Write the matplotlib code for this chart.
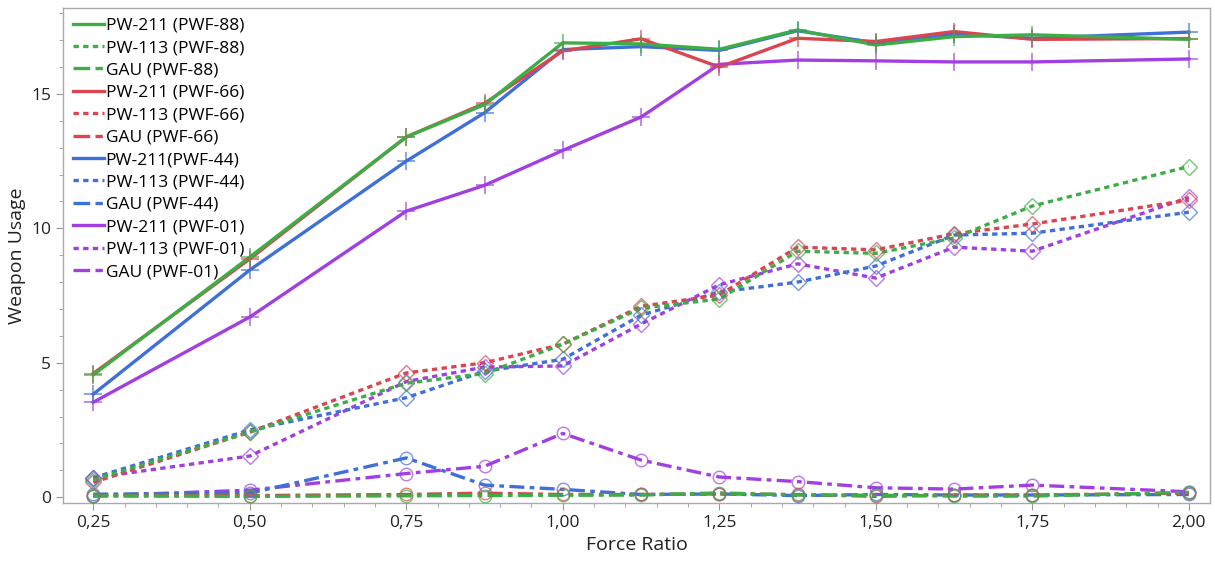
import numpy as np
import matplotlib.pyplot as plt
from matplotlib.ticker import MultipleLocator, FuncFormatter

plt.rcParams['font.family'] = ['Open Sans', 'DejaVu Sans']

force_ratio = [0.25, 0.50, 0.75, 0.875, 1.00, 1.125, 1.25, 1.375, 1.50, 1.625, 1.75, 2.00]

groups = ["PWF-88", "PWF-66", "PWF-44", "PWF-01"]
colors = ["#3DAE46", "#DB4552", "#3F6FD9", "#A23FE0"]

# PW-211 (solid)
pw211_88 = [4.55, 8.93, 13.4, 14.6, 16.9, 16.86, 16.66, 17.38, 16.82, 17.13, 17.2, 17.03]
pw211_66 = [4.6, 8.86, 13.4, 14.65, 16.6, 17.05, 16.0, 17.07, 16.95, 17.32, 17.03, 17.06]
pw211_44 = [3.83, 8.45, 12.5, 14.3, 16.65, 16.76, 16.62, 17.35, 16.9, 17.23, 17.07, 17.3]
pw211_01 = [3.53, 6.7, 10.64, 11.6, 12.9, 14.14, 16.1, 16.26, 16.23, 16.19, 16.19, 16.3]

# PW-113 (dotted)
pw113_88 = [0.65, 2.42, 4.24, 4.6, 5.69, 7.03, 7.37, 9.15, 9.07, 9.64, 10.83, 12.3]
pw113_66 = [0.55, 2.42, 4.62, 5.0, 5.69, 7.1, 7.52, 9.3, 9.2, 9.8, 10.16, 11.05]
pw113_44 = [0.72, 2.5, 3.7, 4.68, 5.13, 6.77, 7.63, 8.0, 8.6, 9.75, 9.82, 10.6]
pw113_01 = [0.72, 1.53, 4.3, 4.84, 4.88, 6.44, 7.9, 8.68, 8.15, 9.3, 9.15, 11.15]

# GAU (dash-dot)
gau_88 = [0.05, 0.03, 0.05, 0.06, 0.07, 0.08, 0.16, 0.08, 0.07, 0.04, 0.04, 0.18]
gau_66 = [0.05, 0.06, 0.1, 0.15, 0.1, 0.1, 0.12, 0.1, 0.03, 0.08, 0.08, 0.15]
gau_44 = [0.11, 0.15, 1.46, 0.45, 0.29, 0.1, 0.12, 0.06, 0.1, 0.08, 0.08, 0.1]
gau_01 = [0.05, 0.26, 0.88, 1.15, 2.37, 1.38, 0.75, 0.58, 0.35, 0.3, 0.45, 0.2]

pw211 = [pw211_88, pw211_66, pw211_44, pw211_01]
pw113 = [pw113_88, pw113_66, pw113_44, pw113_01]
gau = [gau_88, gau_66, gau_44, gau_01]

fig = plt.figure(figsize=(12.15, 5.64), dpi=100)
ax = fig.add_axes([0.052, 0.108, 0.944, 0.878])

lw = 2.4
dot = (1.6, 1.3)
dashdot = (4.5, 1.6, 1.4, 1.6)

# draw back to front: purple first, green last
for i in reversed(range(4)):
    c = colors[i]
    ax.plot(force_ratio, gau[i], color=c, lw=lw, dashes=dashdot, zorder=2)
    ax.plot(force_ratio, gau[i], ls="none", marker="o", ms=9, mfc="none",
            mec=c, mew=1, alpha=0.7, zorder=3)
    ax.plot(force_ratio, pw113[i], color=c, lw=lw, dashes=dot, zorder=2)
    ax.plot(force_ratio, pw113[i], ls="none", marker="D", ms=8, mfc="none",
            mec=c, mew=1, alpha=0.7, zorder=3)
    ax.plot(force_ratio, pw211[i], color=c, lw=lw, zorder=2)
    ax.plot(force_ratio, pw211[i], ls="none", marker="+", ms=13, mec=c,
            mew=1.1, alpha=0.8, zorder=3)

# legend handles (lines only)
handles, labels = [], []
for i, g in enumerate(groups):
    c = colors[i]
    h1, = ax.plot([], [], color=c, lw=lw)
    h2, = ax.plot([], [], color=c, lw=lw, dashes=dot)
    h3, = ax.plot([], [], color=c, lw=lw, dashes=(5.0, 1.6, 2.2, 3))
    name211 = "PW-211(%s)" % g if g == "PWF-44" else "PW-211 (%s)" % g
    handles += [h1, h2, h3]
    labels += [name211, "PW-113 (%s)" % g, "GAU (%s)" % g]

ax.legend(handles, labels, loc="upper left", frameon=False, fontsize=12.5,
          handlelength=1.8, handletextpad=0.1, labelspacing=0.36,
          borderaxespad=0.15, bbox_to_anchor=(0.0, 1.0))

ax.set_xlim(0.202, 2.034)
ax.set_ylim(-0.22, 18.2)
ax.xaxis.set_major_locator(MultipleLocator(0.25))
ax.xaxis.set_minor_locator(MultipleLocator(0.05))
ax.yaxis.set_major_locator(MultipleLocator(5))
ax.yaxis.set_minor_locator(MultipleLocator(1))
ax.xaxis.set_major_formatter(FuncFormatter(lambda v, p: ("%.2f" % v).replace(".", ",")))
ax.yaxis.set_major_formatter(FuncFormatter(lambda v, p: "%d" % v))

ax.tick_params(axis="both", which="major", labelsize=12.5, length=5, color="#999999",
               labelcolor="#222222")
ax.tick_params(axis="both", which="minor", length=3, color="#999999")

for s in ax.spines.values():
    s.set_color("#aaaaaa")
    s.set_linewidth(1)

ax.set_xlabel("Force Ratio", fontsize=14, color="#222222")
ax.set_ylabel("Weapon Usage", fontsize=14, color="#222222")

fig.savefig("out.png", dpi=100)
